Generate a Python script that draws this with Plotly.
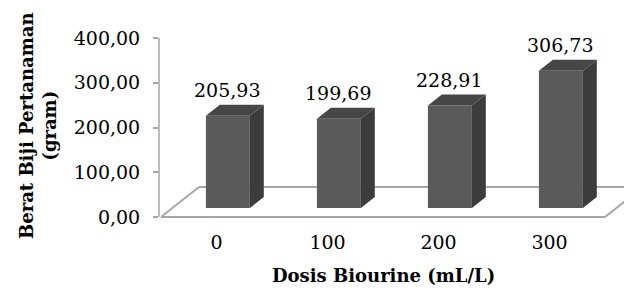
import plotly.graph_objects as go

categories = ["0", "100", "200", "300"]
values = [205.93, 199.69, 228.91, 306.73]
value_labels = ["205,93", "199,69", "228,91", "306,73"]
y_ticks = [0, 100, 200, 300, 400]
y_tick_labels = ["0,00", "100,00", "200,00", "300,00", "400,00"]

FONT = "DejaVu Serif"
FS = 19
TFS = 18
FRONT = "#5a5a5a"
SIDE = "#3c3c3c"
TOP = "#464646"
FLOOR = "#a6a6a6"

PAGE = 8
PLOT_L, PLOT_T, PLOT_B = 159, PAGE, 229   # screen px
PLOT_R = 632 + PAGE
PW, PH = PLOT_R - PLOT_L, PLOT_B - PLOT_T

def px(sx):
    return (sx - PLOT_L) / PW

def py(sy):
    return (PLOT_B - sy) / PH

DX, DY = 0.342, 67.0
F0, F1 = 0.30, 0.667
BW = 0.396
ox, oy = DX * F0, DY * F0
ddx, ddy = DX * (F1 - F0), DY * (F1 - F0)

XMIN = -0.518
XMAX = XMIN + PW / 111.0
YMIN = -(PLOT_B - 217) / 0.4475
YMAX = (217 - PLOT_T) / 0.4475

xs = list(range(len(categories)))
fig = go.Figure()

fig.add_trace(go.Bar(
    x=[i + ox for i in xs], y=values, base=[oy] * len(values), width=BW,
    marker=dict(color=FRONT, line=dict(width=0)), hoverinfo="skip", showlegend=False))

for i, v in zip(xs, values):
    xl = i + ox - BW / 2
    xr = i + ox + BW / 2
    b = oy
    fig.add_trace(go.Scatter(
        x=[xr, xr + ddx, xr + ddx, xr, xr],
        y=[b, b + ddy, b + ddy + v, b + v, b],
        fill="toself", fillcolor=SIDE, mode="lines", line=dict(width=0, color=SIDE),
        hoverinfo="skip", showlegend=False))
    fig.add_trace(go.Scatter(
        x=[xl, xr, xr + ddx, xl + ddx, xl],
        y=[b + v, b + v, b + v + ddy, b + v + ddy, b + v],
        fill="toself", fillcolor=TOP, mode="lines", line=dict(width=0, color=TOP),
        hoverinfo="skip", showlegend=False))

x0f, x1f = -0.5, len(categories) - 0.5
shapes = [
    dict(type="line", xref="x", yref="y", x0=x0f, y0=0, x1=x1f, y1=0,
         line=dict(color=FLOOR, width=2), layer="below"),
    dict(type="line", xref="x", yref="y", x0=x0f, y0=0, x1=x0f + DX, y1=DY,
         line=dict(color=FLOOR, width=2), layer="below"),
    dict(type="line", xref="x", yref="y", x0=x0f + DX, y0=DY, x1=x1f + DX, y1=DY,
         line=dict(color=FLOOR, width=2), layer="below"),
    dict(type="line", xref="x", yref="y", x0=x1f, y0=0, x1=x1f + DX, y1=DY,
         line=dict(color=FLOOR, width=2), layer="below"),
    dict(type="line", xref="paper", yref="y", x0=0, y0=0, x1=0, y1=max(y_ticks),
         line=dict(color=FLOOR, width=1.5), layer="below"),
]

annotations = []
for i, v, t in zip(xs, values, value_labels):
    annotations.append(dict(x=i + ox - 0.01, y=oy + v + ddy, xref="x", yref="y", text=t,
                            showarrow=False, yanchor="bottom", yshift=2,
                            font=dict(family=FONT, size=FS, color="black")))

annotations.append(dict(x=px(383), y=py(275), xref="paper", yref="paper",
                        text="<b>Dosis Biourine (mL/L)</b>", showarrow=False,
                        xanchor="center", yanchor="middle",
                        font=dict(family=FONT, size=TFS, color="black")))
annotations.append(dict(x=px(38), y=py(126), xref="paper", yref="paper",
                        text="<b>Berat Biji Pertanaman</b><br><b>(gram)</b>", showarrow=False,
                        textangle=-90, xanchor="center", yanchor="middle",
                        font=dict(family=FONT, size=TFS, color="black")))

fig.update_layout(
    width=632, height=296,
    margin=dict(l=PLOT_L - PAGE, r=0, t=PLOT_T - PAGE, b=296 - (PLOT_B - PAGE)),
    paper_bgcolor="white", plot_bgcolor="white",
    shapes=shapes, annotations=annotations,
    showlegend=False,
    font=dict(family=FONT, size=FS, color="black"),
    xaxis=dict(range=[XMIN, XMAX], tickvals=xs, ticktext=categories,
               showgrid=False, zeroline=False, showline=False, ticks="",
               tickfont=dict(family=FONT, size=FS, color="black"), fixedrange=True),
    yaxis=dict(range=[YMIN, YMAX], tickvals=y_ticks, ticktext=y_tick_labels,
               showgrid=False, zeroline=False, showline=False, ticks="outside",
               ticklen=5, tickcolor=FLOOR, tickwidth=1.5, ticklabelstandoff=9,
               tickfont=dict(family=FONT, size=FS, color="black"), fixedrange=True),
)

fig.write_html("out.html")
